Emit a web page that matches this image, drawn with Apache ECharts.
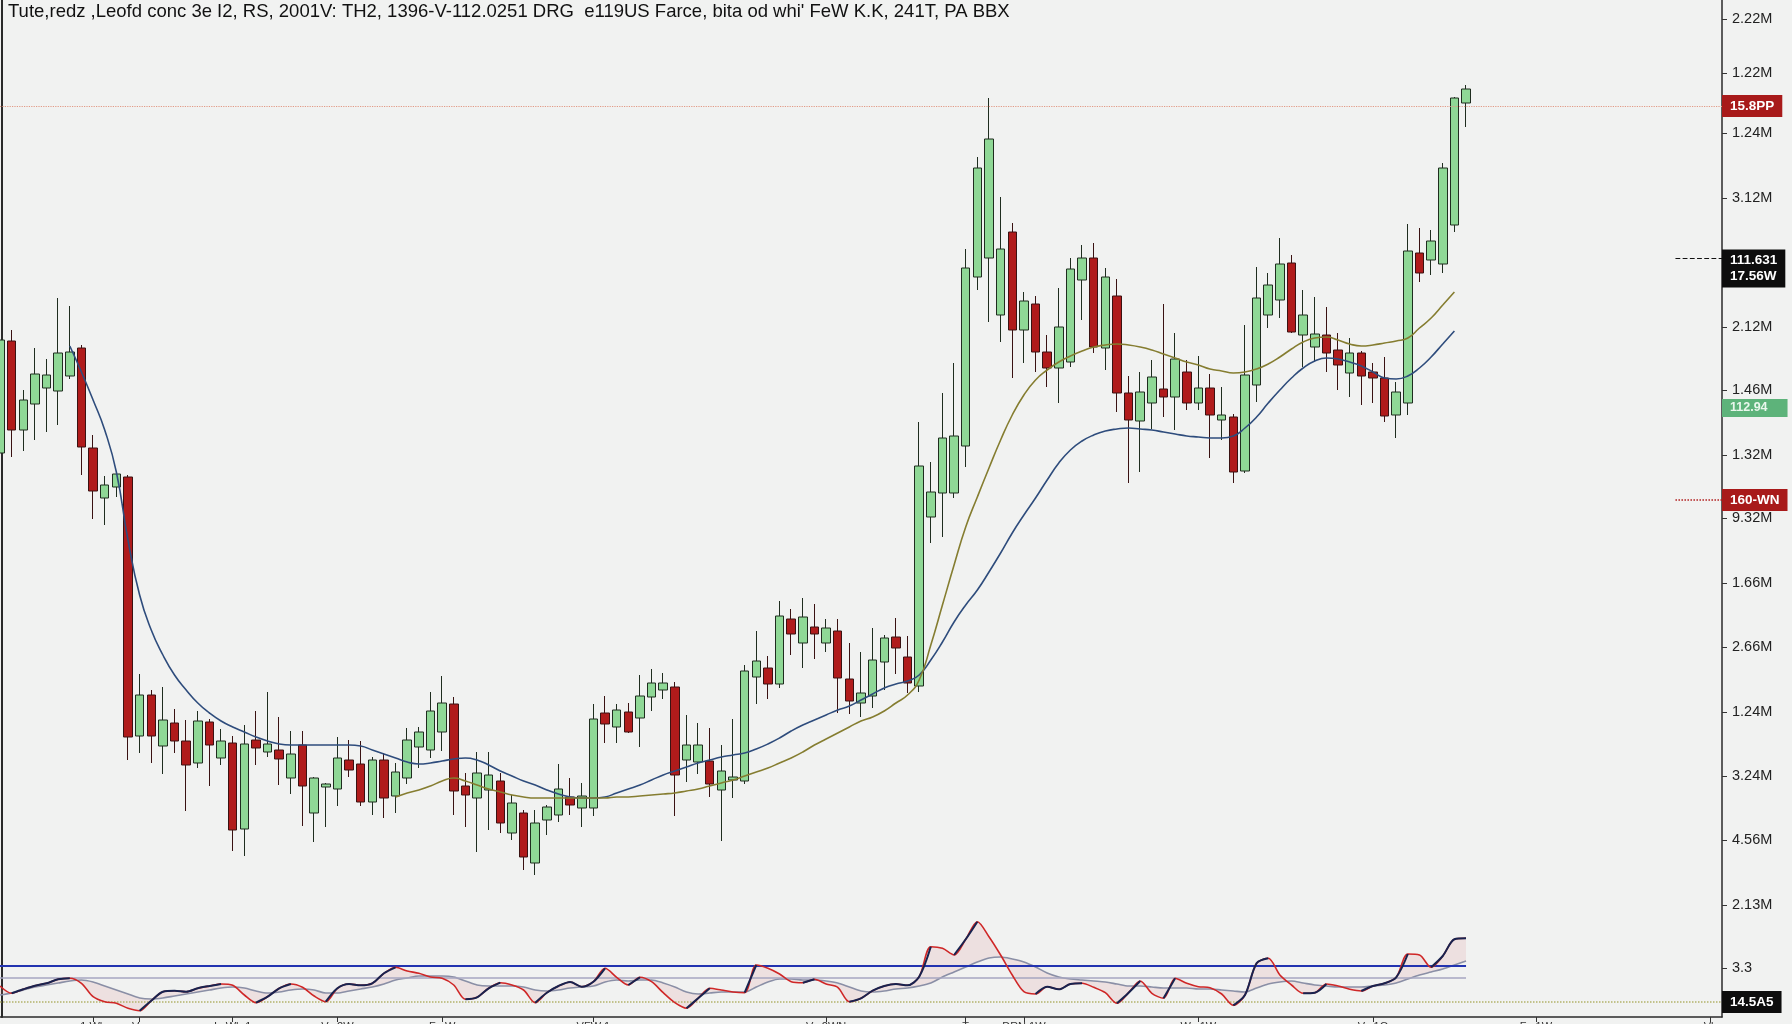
<!DOCTYPE html>
<html><head><meta charset="utf-8">
<script src="https://cdn.jsdelivr.net/npm/echarts@6/dist/echarts.min.js"></script>
<style>html,body{margin:0;padding:0;background:#f1f2f1;}#c{width:1792px;height:1024px;}</style>
</head><body><div id="c"></div>
<script>
const titleText = "Tute,redz ,Leofd conc 3e I2, RS, 2001V: TH2, 1396-V-112.0251 DRG  e119US Farce, bita od whi' FeW K.K, 241T, PA BBX";

const openP = [56.4,67.6,58.7,61.3,62.9,62.6,64.1,66.9,56.9,51.9,53.0,54.0,28.1,32.2,27.1,29.4,27.6,25.4,29.5,25.9,
27.4,18.8,27.7,26.5,26.7,23.9,27.2,20.4,23.0,22.8,25.7,25.3,21.5,25.7,22.1,23.9,27.0,26.7,28.5,31.3,
23.1,21.9,22.7,23.6,18.4,20.4,15.4,19.7,20.2,22.0,20.9,20.9,30.4,29.0,30.5,29.9,32.0,32.7,33.0,25.7,
25.5,25.6,22.7,23.7,23.6,34.0,34.9,33.3,39.8,37.4,39.0,37.4,38.6,33.8,31.4,32.1,35.5,38.0,36.0,33.1,
50.0,52.4,52.4,57.1,74.0,75.9,70.2,78.5,68.7,71.3,66.5,64.9,65.5,73.7,75.9,66.9,72.1,62.4,59.6,61.4,
62.8,62.0,64.5,61.4,62.9,59.7,60.0,54.6,63.2,70.2,71.7,75.4,68.2,67.0,68.2,66.7,64.4,66.4,64.5,63.9,
60.2,61.4,76.4,75.7,75.3,79.2,91.4];
const closeP = [67.7,58.7,61.7,64.3,64.2,66.4,66.5,57.0,52.6,53.2,54.3,28.0,32.2,28.1,29.7,27.6,25.2,29.6,27.2,27.6,
18.7,27.3,26.9,27.3,25.8,26.3,23.1,23.9,23.3,25.9,24.7,21.5,25.7,21.9,24.5,27.7,28.5,30.6,31.4,22.6,
22.2,24.4,24.2,19.4,21.4,16.0,19.4,21.0,22.8,21.2,22.1,29.8,29.3,30.7,28.5,32.1,33.4,33.4,24.2,27.2,
27.2,23.3,24.6,24.0,34.6,35.6,33.3,40.1,38.3,40.0,38.3,38.9,33.9,31.6,32.4,35.7,37.9,36.9,33.4,55.1,
52.5,57.9,58.1,74.9,84.9,87.8,76.8,68.7,71.6,66.5,64.9,69.0,74.8,75.9,67.0,74.0,62.4,59.7,62.5,64.0,
62.0,65.8,61.4,62.9,60.2,60.2,54.5,64.2,71.9,73.2,75.3,68.5,70.2,68.3,66.4,65.2,66.4,64.1,63.9,60.1,
62.5,76.6,74.4,77.6,84.9,91.9,92.8];
const lowP = [55.7,56.0,56.6,57.7,58.5,59.2,63.8,54.2,49.8,49.2,52.0,25.7,26.4,25.4,24.3,26.4,20.6,24.9,23.1,25.2,
16.6,16.1,25.2,26.0,23.2,22.3,19.1,17.5,19.0,21.1,24.0,21.1,20.2,19.9,20.4,23.3,24.9,25.9,26.6,20.2,
19.0,16.5,18.7,18.4,17.7,14.7,14.2,18.2,19.5,20.2,19.0,20.1,27.4,27.4,28.4,27.0,30.6,31.8,20.1,23.5,
24.3,22.0,17.6,21.9,23.3,31.3,31.8,32.9,36.2,34.9,35.8,36.5,30.4,30.3,30.0,30.9,32.7,34.3,32.4,32.5,
47.4,48.0,51.9,55.0,72.7,69.5,67.5,63.9,65.4,64.5,63.0,61.4,65.0,69.7,66.4,64.7,60.5,53.4,54.5,58.8,
60.0,58.7,60.7,60.7,55.9,57.7,53.4,54.4,61.5,68.9,69.9,68.4,65.0,65.5,64.5,62.7,62.0,61.2,61.4,59.5,
57.9,60.2,73.5,74.2,74.4,78.5,89.0];
const highP = [68.7,68.7,62.7,66.9,65.8,71.9,71.1,67.2,58.2,54.1,54.5,54.2,34.3,32.7,33.0,30.8,29.7,30.6,29.8,28.8,
28.1,29.2,30.6,32.5,30.0,28.6,28.6,24.0,23.4,28.0,27.7,27.6,26.0,26.4,25.4,28.9,29.0,32.5,34.1,32.0,
24.4,26.5,26.5,24.4,22.2,20.7,20.7,21.2,25.3,23.9,23.4,31.3,32.1,31.3,31.4,34.2,34.8,34.4,33.5,30.2,
29.4,28.9,27.2,29.8,35.2,38.6,36.1,41.6,40.8,41.9,41.3,39.8,39.8,37.4,36.5,38.9,38.2,39.9,38.1,59.5,
55.5,62.4,65.4,76.8,86.0,91.9,82.0,79.4,72.5,72.1,68.2,72.9,75.9,77.2,77.4,74.9,73.8,64.1,64.5,65.7,
71.3,68.4,65.7,66.1,64.3,63.0,60.3,69.2,75.0,74.4,77.9,76.2,72.7,72.0,71.0,68.4,67.9,66.6,65.4,66.0,
63.5,79.3,78.9,78.7,85.4,92.0,93.2];

const maBlueStart = 6;
const maBlueVals = [67.1,64.5,61.7,58.7,54.5,47.7,42.2,38.7,36.2,34.2,
32.7,31.4,30.4,29.6,29.0,28.5,28.0,27.6,27.3,27.2,
27.2,27.2,27.2,27.2,27.2,27.1,26.7,26.3,25.9,25.5,
25.3,25.4,25.6,25.8,25.9,25.7,25.2,24.6,24.1,23.6,
23.2,22.7,22.3,22.0,21.9,21.9,22.0,22.4,22.8,23.2,
23.7,24.2,24.6,25.0,25.4,25.7,26.0,26.2,26.4,26.8,
27.3,27.9,28.6,29.2,29.7,30.2,30.7,31.1,31.7,32.3,
32.9,33.3,33.6,34.2,35.7,37.5,39.5,41.2,42.7,44.5,
46.4,48.4,50.2,51.9,53.7,55.4,56.7,57.6,58.2,58.6,
58.8,58.9,58.8,58.7,58.5,58.3,58.1,58.0,57.9,57.9,
58.1,58.9,60.0,61.4,62.7,63.9,64.9,65.6,65.9,65.8,
65.5,65.1,64.5,63.9,63.8,64.1,64.9,66.0,67.3,68.6];

const maOliveStart = 34;
const maOliveVals = [22.0,22.4,22.7,23.1,23.6,23.9,
23.6,23.2,22.8,22.5,22.2,22.0,21.9,21.9,21.9,21.9,
21.9,21.9,21.9,22.0,22.0,22.1,22.2,22.3,22.4,22.6,
22.8,23.1,23.4,23.7,24.1,24.5,24.9,25.4,25.9,26.5,
27.2,27.8,28.4,29.0,29.6,30.0,30.6,31.4,32.2,33.7,
37.2,41.2,45.2,49.0,52.0,54.9,57.7,60.2,62.2,63.7,
64.7,65.5,66.1,66.6,67.0,67.2,67.3,67.2,67.0,66.7,
66.3,65.9,65.5,65.2,64.8,64.6,64.4,64.5,64.8,65.3,
66.0,66.8,67.5,67.9,68.0,67.7,67.3,67.1,67.2,67.4,
67.6,67.9,68.9,69.9,71.2,72.5];

const oscMain = [31,23.7,27.7,31.3,33.7,37.7,38.7,33.7,20.3,15.3,
13.7,8.7,6.3,16.3,25.3,26.3,25.3,28.7,31,33,
31.7,22,14.3,20.3,28.7,33,29.7,21,15.3,28.7,
33,31.7,33.7,43.7,49.7,46,43.7,40,38.7,32,
17.7,19.7,28.7,34.3,32,27,14.3,24.3,31,35,
30.3,35.3,48.7,39.7,32,39.7,35.3,24.3,14.3,8.7,
18.7,28.7,27,25,24.3,52,48.7,43,35.3,34.3,
37.7,33,29.7,15.3,18.7,26.3,31,33,31.7,40.3,
70.3,68.7,62,77.7,95.3,80.3,62,42,25.3,23,
30.3,27.7,33,33.7,29.7,24.3,13.7,24.3,36,23.7,
18.7,38.7,33.7,30.3,29.3,23,11.7,22,53.7,58.7,
42,32,23.7,24.3,33,31,27.7,26,31,33.7,
39.7,63,62,49.7,61,77.7,78.7];
const oscSignal = [22,24,27,30,32,34,36,37,35,31,27,
23,19,18,19,21,23,25,27,29,30,
29,26,24,25,27,28,27,24,24,26,
28,30,33,37,39,41,41,41,40,36,
32,31,31,31,30,27,26,27,29,30,
31,35,37,36,37,37,34,30,25,23,
24,25,25,25,30,35,38,38,37,37,
36,34,30,26,25,26,28,29,31,34,
40,45,50,55,59,60,58,55,50,44,
40,38,37,36,35,33,31,31,30,29,
29,29,28,28,27,26,25,29,33,35,
36,34,32,31,30,30,30,31,32,34,
38,42,45,48,52,56];

const oscLevels = { high: 51.5, mid: 39, low: 15 };

const yTickValues = [99.8,94.4,88.4,81.9,69.0,62.7,56.2,49.9,43.4,37.0,30.5,24.1,17.7,11.2,4.9];
const yTickLabels = ['2.22M','1.22M','1.24M','3.12M','2.12M','1.46M','1.32M','9.32M','1.66M','2.66M','1.24M','3.24M','4.56M','2.13M','3.3'];

const xTickIdx = [8,12,20,29,38,51,71,83,88,103,118,132,147];
const xTickText = ['1 Wh','Vw','Is Wh 1','Ve 2W','Fe W','VFW 1','Ve 2WN','T','DRN 1W','Wa 1W','Ve 1Q','Fe 1W','Vb'];

const priceMarks = { top: 91.1, blackLine: 75.9, blackLabel: 74.85, green: 60.9, red: 51.7 };
const priceMarkText = { top: '15.8PP', black: '111.631\n17.56W', green: '112.94', red: '160-WN', osc: '14.5A5' };

const nCats = 149;
const cats = [];
for (let i = 0; i < nCats; i++) cats.push('');
xTickIdx.forEach((k, j) => { cats[k] = xTickText[j]; });

const candleData = openP.map((o, i) => [o, closeP[i], lowP[i], highP[i]]);
function buildMA(start, vals) {
  const out = [];
  for (let i = 0; i < start; i++) out.push(null);
  return out.concat(vals);
}
const maBlue = buildMA(maBlueStart, maBlueVals);
const maOlive = buildMA(maOliveStart, maOliveVals);
const oscDiff = oscMain.map((v, i) => +(v - oscSignal[i]).toFixed(2));
const oscDark = oscMain.map((v, i) => {
  const up = (i > 0 && v > oscMain[i - 1]) || (i < oscMain.length - 1 && oscMain[i + 1] > v);
  return up ? v : null;
});

const FONT = 'Liberation Sans';
const lastIdx = openP.length - 1;
const hidden = { color: 'rgba(0,0,0,0)', width: 0 };
const boxLabel = (text, bg, color) => ({
  show: true, position: 'end', formatter: text, backgroundColor: bg, color: color || '#fff',
  padding: [3, 8], fontSize: 13.5, fontWeight: 'bold', fontFamily: FONT, distance: 0, lineHeight: 16
});

const chart = echarts.init(document.getElementById('c'), null, { renderer: 'canvas' });
chart.setOption({
  backgroundColor: '#f1f2f1',
  animation: false,
  title: { text: titleText, left: 3, top: -3, textStyle: { fontSize: 18.5, fontWeight: 'normal', color: '#111', fontFamily: FONT } },
  grid: [
    { left: 0, right: 70, top: 0, bottom: 7, containLabel: false, outerBoundsMode: 'none' },
    { left: 0, right: 70, top: 880, bottom: 7, containLabel: false, outerBoundsMode: 'none' }
  ],
  xAxis: [
    { type: 'category', data: cats, gridIndex: 0, boundaryGap: false,
      axisLine: { onZero: false, lineStyle: { color: '#2a2a2a', width: 1.5 } },
      axisTick: { interval: (i) => cats[i] !== '', length: 5, lineStyle: { color: '#333' } },
      axisLabel: { interval: (i) => cats[i] !== '', fontSize: 11, color: '#333', margin: 4, fontFamily: FONT },
      splitLine: { show: false } },
    { type: 'category', data: cats, gridIndex: 1, boundaryGap: false, show: false }
  ],
  yAxis: [
    { type: 'value', gridIndex: 0, position: 'right', min: 0, max: 101.7,
      axisLine: { show: true, lineStyle: { color: '#2a2a2a', width: 1.5 } },
      axisTick: { show: true, customValues: yTickValues, length: 5, lineStyle: { color: '#333' } },
      axisLabel: { customValues: yTickValues, color: '#222', fontSize: 14.5, margin: 10, fontFamily: FONT,
        formatter: (v) => { const i = yTickValues.indexOf(v); return i >= 0 ? yTickLabels[i] : ''; } },
      splitLine: { show: false } },
    { type: 'value', gridIndex: 0, position: 'left', offset: -1.5, min: 0, max: 101.7,
      axisLine: { show: true, lineStyle: { color: '#2a2a2a', width: 2 } },
      axisTick: { show: false }, axisLabel: { show: false }, splitLine: { show: false } },
    { type: 'value', gridIndex: 1, min: 0, max: 137, show: false, splitLine: { show: false } }
  ],
  series: [
    { type: 'candlestick', xAxisIndex: 0, yAxisIndex: 0, data: candleData, barWidth: 9, z: 3,
      itemStyle: { color: '#8fd896', color0: '#b01b1b', borderColor: '#1f2d1f', borderColor0: '#3a1212', borderWidth: 1 },
      markLine: { symbol: ['none', 'none'], silent: true, animation: false,
        data: [
          { yAxis: priceMarks.top, lineStyle: { color: '#e29a86', type: 'dotted', width: 1.2 }, label: boxLabel(priceMarkText.top, '#a81a1a') },
          [ { coord: [144, priceMarks.blackLine], lineStyle: { color: '#111', type: 'dashed', width: 1.2 }, label: { show: false } },
            { coord: [148, priceMarks.blackLine], lineStyle: { color: '#111', type: 'dashed', width: 1.2 } } ],
          { yAxis: priceMarks.blackLabel, lineStyle: hidden, label: boxLabel(priceMarkText.black, '#0d0d0d') },
          { yAxis: priceMarks.green, lineStyle: hidden, label: Object.assign(boxLabel(priceMarkText.green, '#5db37a', '#e9f7ec'), { padding: [1, 20, 1, 8], fontSize: 12.5 }) },
          [ { coord: [144, priceMarks.red], lineStyle: { color: '#b01b1b', type: 'dotted', width: 1.5 }, label: boxLabel(priceMarkText.red, '#a81a1a') },
            { coord: [148, priceMarks.red], lineStyle: { color: '#b01b1b', type: 'dotted', width: 1.5 } } ]
        ] } },
    { type: 'line', xAxisIndex: 0, yAxisIndex: 0, data: maBlue, smooth: true, showSymbol: false, z: 4,
      lineStyle: { color: '#2e4c7c', width: 1.6 } },
    { type: 'line', xAxisIndex: 0, yAxisIndex: 0, data: maOlive, smooth: true, showSymbol: false, z: 4,
      lineStyle: { color: '#857d30', width: 1.6 } },
    { type: 'line', xAxisIndex: 1, yAxisIndex: 2, data: oscSignal, stack: 'osc', stackStrategy: 'all', smooth: 0.3, showSymbol: false, z: 3,
      lineStyle: { color: '#8a8fa6', width: 1.6 } },
    { type: 'line', xAxisIndex: 1, yAxisIndex: 2, data: oscDiff, stack: 'osc', stackStrategy: 'all', smooth: 0.3, showSymbol: false, z: 2,
      lineStyle: { width: 0, opacity: 0 }, areaStyle: { color: 'rgba(214,120,120,0.2)' } },
    { type: 'line', xAxisIndex: 1, yAxisIndex: 2, data: oscMain, smooth: 0.3, showSymbol: false, z: 5,
      lineStyle: { color: '#cf2727', width: 1.6 },
      markLine: { symbol: ['none', 'none'], silent: true, animation: false,
        data: [
          [ { coord: [0, oscLevels.high], lineStyle: { color: '#2233b0', width: 2, type: 'solid' }, label: { show: false } },
            { coord: [lastIdx, oscLevels.high], lineStyle: { color: '#2233b0', width: 2, type: 'solid' } } ],
          [ { coord: [0, oscLevels.mid], lineStyle: { color: '#a6a6c0', width: 1.5, type: 'solid' }, label: { show: false } },
            { coord: [lastIdx, oscLevels.mid], lineStyle: { color: '#a6a6c0', width: 1.5, type: 'solid' } } ],
          { yAxis: oscLevels.low, lineStyle: { color: '#b3b36a', width: 1.5, type: 'dotted' }, label: boxLabel(priceMarkText.osc, '#0d0d0d') }
        ] } },
    { type: 'line', xAxisIndex: 1, yAxisIndex: 2, data: oscDark, smooth: 0.3, showSymbol: false, z: 6, connectNulls: false,
      lineStyle: { color: '#18234f', width: 2 } }
  ]
});
</script></body></html>
